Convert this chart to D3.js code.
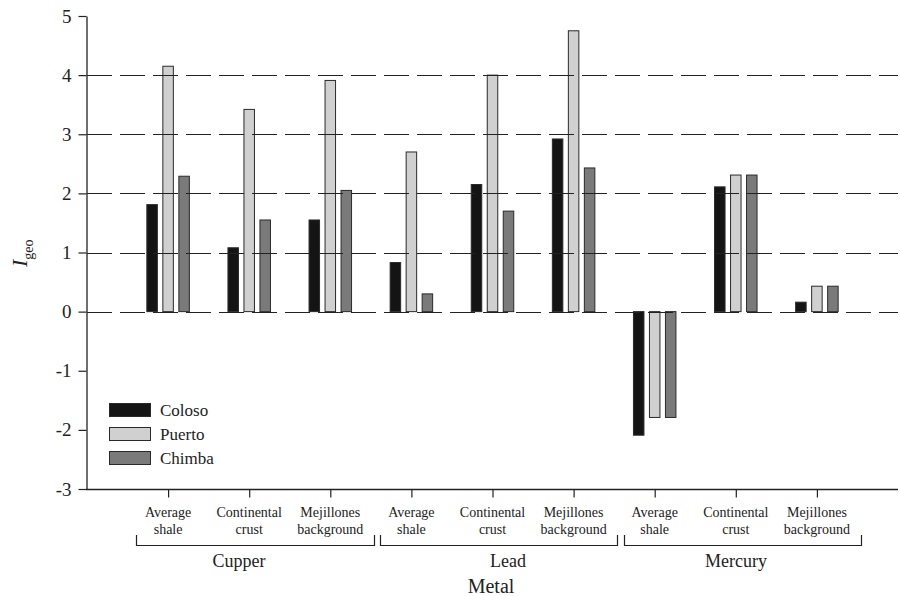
<!DOCTYPE html>
<html>
<head>
<meta charset="utf-8">
<script src="https://cdn.jsdelivr.net/npm/d3@7"></script>
<style>
  html, body { margin: 0; padding: 0; background: #fff; }
  svg { display: block; }
  svg text { font-family: "Liberation Serif", "Times New Roman", serif; }
</style>
</head>
<body>
<svg id="chart" width="900" height="596"></svg>
<script>
// Categories (reference values) grouped by metal
const metals = ["Cupper", "Lead", "Mercury"];
const references = [["Average", "shale"], ["Continental", "crust"], ["Mejillones", "background"]];
const categories = metals.flatMap(m => references.map((r, i) => m + "|" + i));

// Igeo values per site, in category order
const coloso = [1.81, 1.08, 1.55, 0.83, 2.15, 2.92, -2.09, 2.11, 0.16];
const puerto = [4.15, 3.42, 3.91, 2.70, 4.00, 4.75, -1.79, 2.31, 0.43];
const chimba = [2.29, 1.55, 2.05, 0.30, 1.70, 2.43, -1.79, 2.31, 0.43];

const seriesNames = ["Coloso", "Puerto", "Chimba"];
const seriesValues = [coloso, puerto, chimba];
const seriesColors = ["#141414", "#d0d0d0", "#7a7a7a"];

const yTicks = [-3, -2, -1, 0, 1, 2, 3, 4, 5];
const gridValues = [0, 1, 2, 3, 4];

const svg = d3.select("#chart");

const plotLeft = 87, plotRight = 898, plotTop = 16, plotBottom = 489;

const y = d3.scaleLinear().domain([-3, 5]).range([plotBottom, plotTop]);
const x = d3.scalePoint().domain(categories).range([plotLeft, plotRight]).padding(1);
const xOff = d3.scalePoint().domain(seriesNames).range([-16, 16]);
const barW = 10.5;

// Bars
seriesNames.forEach((name, si) => {
  svg.append("g")
    .selectAll("rect")
    .data(categories.map((c, i) => ({ c, v: seriesValues[si][i] })))
    .join("rect")
    .attr("x", d => x(d.c) + xOff(name) - barW / 2)
    .attr("width", barW)
    .attr("y", d => y(Math.max(0, d.v)))
    .attr("height", d => Math.abs(y(d.v) - y(0)))
    .attr("fill", seriesColors[si])
    .attr("stroke", "#2a2a2a")
    .attr("stroke-width", 1);
});

// Dashed reference lines
svg.append("g")
  .selectAll("line")
  .data(gridValues)
  .join("line")
  .attr("x1", plotLeft).attr("x2", plotRight)
  .attr("y1", d => Math.round(y(d)) + 0.5).attr("y2", d => Math.round(y(d)) + 0.5)
  .attr("stroke", "#222")
  .attr("stroke-width", 1.2)
  .attr("stroke-dasharray", "25,8");

// Y axis (plain hyphen for negatives)
const yAxis = svg.append("g")
  .attr("transform", `translate(${plotLeft - 0.5},0)`)
  .call(d3.axisLeft(y).tickValues(yTicks).tickFormat(d => String(d))
    .tickSize(8).tickSizeOuter(0).tickPadding(7));
yAxis.attr("font-family", null);
yAxis.select(".domain").attr("stroke", "#222").attr("stroke-width", 1.3);
yAxis.selectAll(".tick line").attr("stroke", "#222").attr("stroke-width", 1.2);
yAxis.selectAll(".tick text")
  .attr("font-size", 19)
  .attr("fill", "#222");

// X axis
const xAxis = svg.append("g")
  .attr("transform", `translate(0,${plotBottom + 0.5})`)
  .call(d3.axisBottom(x).tickSize(8).tickSizeOuter(0).tickFormat(""));
xAxis.select(".domain").attr("stroke", "#222").attr("stroke-width", 1.3)
  .attr("d", `M${plotLeft - 1},0H${plotRight}`);
xAxis.selectAll(".tick line").attr("stroke", "#222").attr("stroke-width", 1.2);

// Two-line category labels
const catLabels = svg.append("g")
  .attr("font-size", 14)
  .attr("fill", "#222")
  .attr("text-anchor", "middle");
categories.forEach(c => {
  const ref = references[+c.split("|")[1]];
  const t = catLabels.append("text").attr("x", x(c)).attr("y", 517);
  t.append("tspan").attr("x", x(c)).text(ref[0]);
  t.append("tspan").attr("x", x(c)).attr("dy", 17).text(ref[1]);
});

// Group brackets and metal names
const bracketSpans = [[136, 374], [380, 617], [624, 861]];
const metalLabelX = [239, 508, 736];
const brackets = svg.append("g").attr("stroke", "#222").attr("stroke-width", 1.2).attr("fill", "none");
bracketSpans.forEach(([a, b]) => {
  brackets.append("path").attr("d", `M${a + 0.5},535V545.5H${b + 0.5}V535`);
});
svg.append("g")
  .attr("font-size", 18)
  .attr("fill", "#222")
  .attr("text-anchor", "middle")
  .selectAll("text")
  .data(metals)
  .join("text")
  .attr("x", (d, i) => metalLabelX[i])
  .attr("y", 567)
  .text(d => d);

// Axis titles
svg.append("text")
  .attr("x", 491).attr("y", 593)
  .attr("text-anchor", "middle")
  .attr("font-size", 20)
  .attr("fill", "#222")
  .text("Metal");

const yTitle = svg.append("text")
  .attr("transform", "translate(27,267) rotate(-90)")
  .attr("fill", "#222");
yTitle.append("tspan").attr("font-style", "italic").attr("font-size", 22).text("I");
yTitle.append("tspan").attr("font-size", 14).attr("dy", 6).text("geo");

// Legend
const legend = svg.append("g").attr("transform", "translate(109,403)");
seriesNames.forEach((name, i) => {
  const g = legend.append("g").attr("transform", `translate(0,${i * 24})`);
  g.append("rect")
    .attr("x", 0.5).attr("y", 0.5)
    .attr("width", 41).attr("height", 13)
    .attr("fill", seriesColors[i])
    .attr("stroke", "#2a2a2a")
    .attr("stroke-width", 1);
  g.append("text")
    .attr("x", 51).attr("y", 13)
    .attr("font-size", 17)
    .attr("fill", "#222")
    .text(name);
});
</script>
</body>
</html>
